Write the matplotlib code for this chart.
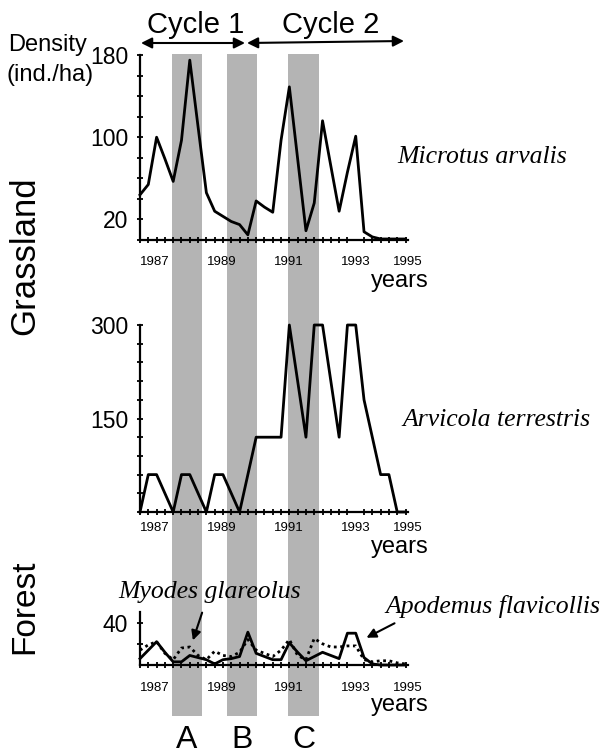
import matplotlib.pyplot as plt
from matplotlib import transforms

W, H = 606, 756

# quarterly samples, 1986.5 .. 1994.5
quarters = list(range(33))
microtus = [44, 54, 100, 79, 57, 97, 175, 110, 46, 28, 23, 18, 15, 5, 38, 32, 27,
            97, 149, 79, 9, 36, 116, 72, 28, 66, 101, 8, 3, 1, 1, 1, 1]
arvicola = [0, 60, 60, 30, 0, 60, 60, 30, 0, 60, 60, 30, 0, 60, 120, 120, 120,
            120, 300, 210, 120, 300, 300, 210, 120, 300, 300, 180, 120, 60, 60, 0, 0]
apodemus = [6, 14, 22, 12, 3, 3, 9, 7, 5, 1, 5, 6, 8, 31, 11, 8, 5,
            5, 21, 12, 4, 8, 12, 9, 6, 30, 30, 7, 1, 0, 0, 0, 0]
myodes = [14, 19, 22, 11, 5, 16, 17, 9, 5, 13, 9, 8, 12, 24, 14, 11, 8,
          14, 24, 9, 5, 25, 20, 17, 17, 18, 18, 5, 3, 4, 4, 2, 1]

year_labels = ['1987', '1989', '1991', '1993', '1995']
year_pos = [1.8, 9.8, 17.9, 26.0, 32.3]
bands = [(3.8, 7.4, 'A'), (10.4, 14.0, 'B'), (17.7, 21.4, 'C')]


def fx(px):
    return px / W


def fy(py):
    return 1 - py / H


def box(left, top, right, bottom):
    return [fx(left), fy(bottom), (right - left) / W, (bottom - top) / H]


fig = plt.figure(figsize=(6.06, 7.56), dpi=100)
plt.rcParams['font.family'] = ['Liberation Sans', 'DejaVu Sans']

# grey bands running through all panels
bg = fig.add_axes(box(140, 54, 408, 716), zorder=0)
bg.set_xlim(0, 32)
bg.set_ylim(0, 1)
bg.axis('off')
blend = transforms.blended_transform_factory(bg.transData, fig.transFigure)
for a, b, lab in bands:
    bg.axvspan(a, b, color='#b4b4b4', lw=0)
    fig.text((a + b) / 2, fy(740), lab, transform=blend, ha='center', va='center',
             fontsize=23)


def panel(rect, ymax, yminor, ymajor, xpad):
    ax = fig.add_axes(rect, zorder=1)
    ax.patch.set_alpha(0)
    ax.set_xlim(0, 32)
    ax.set_ylim(0, ymax)
    for s in ['top', 'right']:
        ax.spines[s].set_visible(False)
    for s in ['left', 'bottom']:
        ax.spines[s].set_linewidth(1.6)
    ax.set_xticks(quarters, minor=True)
    ax.set_xticks(year_pos, year_labels)
    ax.set_yticks(yminor, minor=True)
    ax.set_yticks(ymajor, [str(v) for v in ymajor])
    ax.tick_params(which='both', direction='inout', length=5, width=1.3)
    ax.tick_params(axis='x', which='major', length=0, pad=xpad, labelsize=9.5)
    ax.tick_params(axis='y', which='major', pad=6, labelsize=16.5)
    return ax


ax1 = panel(box(140, 55, 408, 240), 180, range(0, 181, 20), [20, 100, 180], 11.5)
ax1.plot(quarters, microtus, color='black', lw=2, clip_on=False)

ax2 = panel(box(140, 325, 408, 512), 300, range(0, 301, 30), [150, 300], 7)
ax2.plot(quarters, arvicola, color='black', lw=2, clip_on=False)

ax3 = panel(box(140, 612, 408, 665), 50, [20, 40], [40], 12)
ax3.plot(quarters, myodes, color='black', lw=2, ls=(0, (1, 1.3)), clip_on=False)
ax3.plot(quarters, apodemus, color='black', lw=2, clip_on=False)

# axis words
for base in [287, 553, 711]:
    fig.text(fx(429), fy(base), 'years', ha='right', va='baseline', fontsize=17)
fig.text(fx(8), fy(45), 'Density', ha='left', va='center', fontsize=17)
fig.text(fx(7), fy(75), '(ind./ha)', ha='left', va='center', fontsize=17)
fig.text(fx(25), fy(256), 'Grassland', rotation=90, ha='center', va='center',
         fontsize=25)
fig.text(fx(25), fy(607), 'Forest', rotation=90, ha='center', va='center',
         fontsize=24)

# species names
sp = dict(family='Liberation Serif', style='italic', fontsize=18.5, va='center',
          ha='left')
fig.text(fx(397), fy(157), 'Microtus arvalis', **sp)
fig.text(fx(402), fy(420), 'Arvicola terrestris', **sp)
fig.text(fx(118), fy(592), 'Myodes glareolus', **sp)
fig.text(fx(385), fy(606), 'Apodemus flavicollis', **sp)

arr = dict(arrowstyle='-|>', color='black', lw=1.5, mutation_scale=14)
fig.add_artist(plt.matplotlib.patches.FancyArrowPatch(
    (fx(203), fy(610)), (fx(192), fy(643)), transform=fig.transFigure, **arr))
fig.add_artist(plt.matplotlib.patches.FancyArrowPatch(
    (fx(397), fy(622)), (fx(364), fy(639)), transform=fig.transFigure, **arr))

# cycle arrows
cyc = dict(arrowstyle='<|-|>', color='black', lw=1.5, mutation_scale=16)
fig.add_artist(plt.matplotlib.patches.FancyArrowPatch(
    (fx(141), fy(43)), (fx(245), fy(43)), transform=fig.transFigure,
    shrinkA=0, shrinkB=0, **cyc))
fig.add_artist(plt.matplotlib.patches.FancyArrowPatch(
    (fx(247), fy(43)), (fx(404), fy(41)), transform=fig.transFigure,
    shrinkA=0, shrinkB=0, **cyc))
fig.text(fx(196), fy(25), 'Cycle 1', ha='center', va='center', fontsize=21)
fig.text(fx(331), fy(25), 'Cycle 2', ha='center', va='center', fontsize=21)

fig.savefig('out.png', dpi=100)
